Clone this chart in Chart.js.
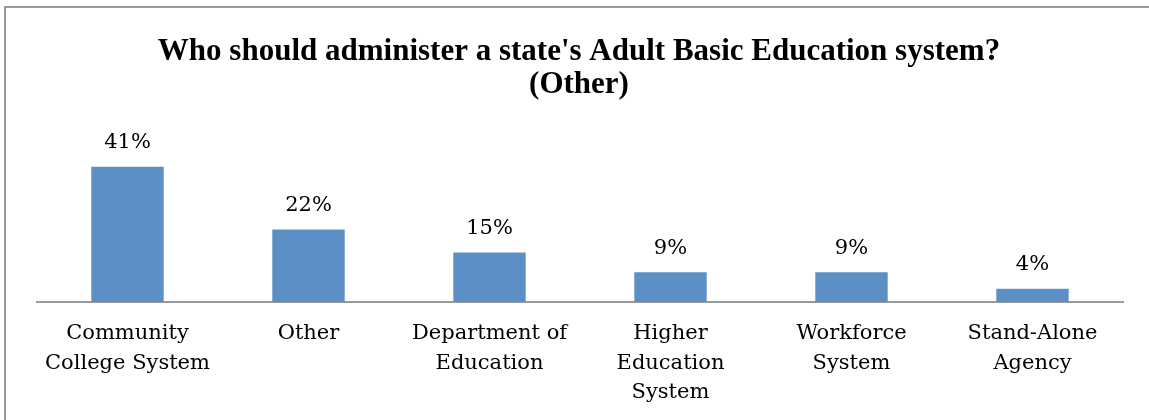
<!DOCTYPE html>
<html>
<head>
<meta charset="utf-8">
<script src="https://cdn.jsdelivr.net/npm/chart.js@4/dist/chart.umd.min.js"></script>
<style>
    html, body { margin: 0; padding: 0; background: #fff; }
    #wrap { width: 1149px; height: 420px; }
</style>
</head>
<body>
<div id="wrap"><canvas id="chartAdmin" width="1149" height="420"></canvas></div>
<script>
'use strict';

// ─────────────────────────────────────────────────────────────────────────────
// Données
// ─────────────────────────────────────────────────────────────────────────────

var TITLE_LINES = ["Who should administer a state's Adult Basic Education system?", '(Other)'];

var categories = [
    ['Community', 'College System'],
    ['Other'],
    ['Department of', 'Education'],
    ['Higher', 'Education', 'System'],
    ['Workforce', 'System'],
    ['Stand-Alone', 'Agency']
];

var percents = [41, 22, 15, 9, 9, 4];

var Y_MAX = 45;

var COLORS = {
    bar: '#5b8fc6',
    axis: '#9a9a9a',
    frame: '#9a9a9a',
    text: '#000000'
};

var LABEL_FONT = '"DejaVu Serif", serif';
var TITLE_FONT = '"Liberation Serif", serif';

// cadre + titre
var framePlugin = {
    id: 'frame',
    beforeDraw: function(chart) {
        var ctx = chart.ctx;
        ctx.save();
        ctx.fillStyle = '#fff';
        ctx.fillRect(0, 0, chart.width, chart.height);
        ctx.strokeStyle = COLORS.frame;
        ctx.lineWidth = 2;
        ctx.beginPath();
        ctx.moveTo(5, chart.height);
        ctx.lineTo(5, 7);
        ctx.lineTo(chart.width, 7);
        ctx.stroke();
        ctx.restore();
    },
    afterDraw: function(chart) {
        var ctx = chart.ctx;
        ctx.save();
        ctx.fillStyle = COLORS.text;
        ctx.font = 'bold 31px ' + TITLE_FONT;
        ctx.textAlign = 'center';
        ctx.textBaseline = 'alphabetic';
        ctx.fillText(TITLE_LINES[0], 579, 60);
        ctx.fillText(TITLE_LINES[1], 579, 93);
        ctx.restore();
    }
};

// étiquettes de valeur au-dessus des barres
var valueLabels = {
    id: 'valueLabels',
    afterDatasetsDraw: function(chart) {
        var ctx = chart.ctx;
        var meta = chart.getDatasetMeta(0);
        ctx.save();
        ctx.fillStyle = COLORS.text;
        ctx.font = '21px ' + LABEL_FONT;
        ctx.textAlign = 'center';
        ctx.textBaseline = 'middle';
        meta.data.forEach(function(bar, i) {
            ctx.fillText(percents[i] + '%', bar.x, bar.y - 24);
        });
        ctx.restore();
    }
};

var chartAdmin = new Chart(document.getElementById('chartAdmin'), {
    type: 'bar',
    data: {
        labels: categories,
        datasets: [{
            data: percents,
            backgroundColor: COLORS.bar,
            borderWidth: 0,
            categoryPercentage: 1,
            barPercentage: 0.4
        }]
    },
    plugins: [framePlugin, valueLabels],
    options: {
        responsive: false,
        animation: false,
        layout: {
            padding: { top: 153.5, left: 37, right: 26, bottom: 0 }
        },
        plugins: {
            legend: { display: false },
            title: { display: false },
            tooltip: { enabled: false }
        },
        scales: {
            x: {
                grid: { display: false, drawTicks: false },
                border: { display: true, color: COLORS.axis, width: 2 },
                ticks: {
                    color: COLORS.text,
                    padding: 17,
                    maxRotation: 0,
                    autoSkip: false,
                    font: { family: LABEL_FONT, size: 21, lineHeight: 1.405 }
                },
                afterFit: function(scale) { scale.height = 118; }
            },
            y: {
                display: false,
                min: 0,
                max: Y_MAX
            }
        }
    }
});
</script>
</body>
</html>
